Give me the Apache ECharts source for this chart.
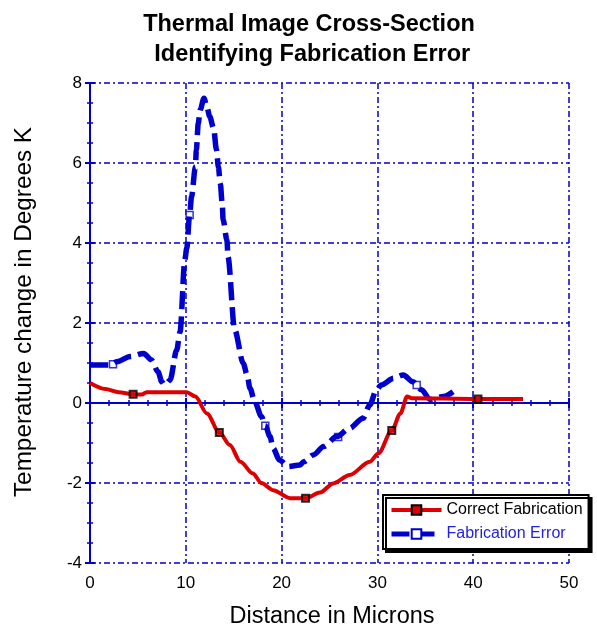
<!DOCTYPE html>
<html>
<head>
<meta charset="utf-8">
<script src="https://cdn.jsdelivr.net/npm/echarts@6/dist/echarts.min.js"></script>
<style>html,body{margin:0;padding:0;background:#fff;}#c{width:597px;height:632px;}</style>
</head>
<body>
<div id="c"></div>
<script>
var correctX = [0,1.6,3.0,4.5,5.4,5.9,10.1,11.0,12.2,13.5,14.6,15.7,17.0,17.9,19.1,20.9,22.5,24.0,25.4,27.1,29.2,30.1,31.5,32.4,33.1,33.6,40.5,45.2];
var correctY = [0.5,0.35,0.27,0.22,0.21,0.27,0.27,0.16,-0.26,-0.74,-1.05,-1.47,-1.76,-2.0,-2.18,-2.38,-2.38,-2.24,-2.01,-1.8,-1.47,-1.26,-0.69,-0.26,0.16,0.12,0.1,0.1];
var errorX = [0,2.1,2.8,4.2,5.6,6.4,7.1,7.5,7.8,8.35,9.05,9.4,9.9,10.1,10.4,10.6,11.0,11.1,11.3,11.5,11.9,12.2,12.5,12.9,13.2,13.4,13.6,13.8,13.9,14.3,14.4,15.1,16.0,16.4,16.7,17.2,17.9,18.3,18.8,19.1,19.8,20.7,21.9,22.3,23.3,24.4,25.75,27.1,28.5,29.2,29.9,30.4,31.7,32.7,33.7,34.6,35.5,36.9,37.9];
var errorY = [0.95,0.95,1.03,1.16,1.24,1.08,0.78,0.53,0.45,0.57,1.32,1.78,3.58,3.87,4.7,5.16,5.9,6.33,6.99,7.33,7.62,7.4,7.16,6.87,6.33,5.9,5.49,4.99,4.57,4.07,3.66,1.83,0.99,0.7,0.37,0.03,-0.34,-0.57,-0.84,-1.13,-1.43,-1.59,-1.55,-1.47,-1.3,-1.09,-0.84,-0.63,-0.38,-0.05,0.33,0.45,0.62,0.7,0.53,0.33,0.09,0.16,0.28];
var correctMarkX = [4.5,13.5,22.5,31.5,40.5];
var correctMarkY = [0.22,-0.74,-2.38,-0.69,0.1];
var errorMarkX = [2.4,10.4,18.3,25.9,34.1];
var errorMarkY = [0.97,4.7,-0.57,-0.85,0.45];
var xTicks = [0,10,20,30,40,50];
var yTicks = [-4,-2,0,2,4,6,8];
var titleText = 'Thermal Image Cross-Section\n Identifying Fabrication Error';
var xName = 'Distance in Microns';
var yName = 'Temperature change in Degrees K';

function zip(a,b){return a.map(function(v,i){return [v,b[i]];});}

var blue = '#0000cc';
var font = 'Liberation Sans, Arial, sans-serif';
var chart = echarts.init(document.getElementById('c'));

function axisCommon(showLabel){
  return {
    axisLine:{show:true,lineStyle:{color:blue,width:2}},
    axisTick:{show:true,inside:true,length:5,lineStyle:{color:blue,width:2}},
    minorTick:{show:true,splitNumber:5,length:3,lineStyle:{color:blue,width:1.5}},
    axisLabel:{show:showLabel,color:'#000',fontSize:17,fontFamily:font},
    splitLine:{show:false}
  };
}

var xMain = Object.assign(axisCommon(true), {
  type:'value', min:xTicks[0], max:xTicks[xTicks.length-1], interval:10, position:'bottom',
  splitLine:{show:true,lineStyle:{color:blue,width:1.5,type:[6,3,2,3]}}
});
xMain.axisLabel.margin = 12;
var xTop = Object.assign(axisCommon(false), {type:'value', min:0, max:50, interval:10, position:'top'});
var yMain = Object.assign(axisCommon(true), {
  type:'value', min:yTicks[0], max:yTicks[yTicks.length-1], interval:2, position:'left',
  splitLine:{show:true,lineStyle:{color:blue,width:1.5,type:[6,3,2,3]}}
});
yMain.minorTick.splitNumber = 4;
yMain.axisLabel.margin = 8;
var yRight = Object.assign(axisCommon(false), {type:'value', min:-4, max:8, interval:2, position:'right'});
yRight.minorTick.splitNumber = 4;

chart.setOption({
  animation:false,
  backgroundColor:'#fff',
  graphic:[
    {type:'text', x:309, y:10,
     style:{text:titleText, textAlign:'center', textVerticalAlign:'top', font:'bold 23.5px ' + font, fill:'#000', lineHeight:30}},
    {type:'text', x:332, y:617,
     style:{text:xName, textAlign:'center', textVerticalAlign:'middle', font:'23.5px ' + font, fill:'#000'}},
    {type:'text', x:24, y:312, rotation:Math.PI/2,
     style:{text:yName, textAlign:'center', textVerticalAlign:'middle', font:'24.3px ' + font, fill:'#000'}}
  ],
  grid:{left:90, right:28, top:83, bottom:69},
  legend:{
    orient:'vertical', left:383, top:495,
    backgroundColor:'#fff', borderColor:'#000', borderWidth:2,
    shadowColor:'#000', shadowBlur:0, shadowOffsetX:3, shadowOffsetY:3,
    padding:[7,6,7,6], itemGap:8, itemWidth:50, itemHeight:12,
    textStyle:{fontSize:16,fontFamily:font,color:'#000'},
    data:[
      {name:'Correct Fabrication', textStyle:{color:'#000'}, lineStyle:{width:4}},
      {name:'Fabrication Error', textStyle:{color:'#2222dd'}, lineStyle:{width:5}}
    ]
  },
  xAxis:[xMain, xTop],
  yAxis:[yMain, yRight],
  series:[
    {
      name:'Correct Fabrication', type:'line', data:zip(correctX,correctY),
      smooth:0.3, smoothMonotone:'x', showSymbol:false, symbol:'rect', symbolSize:7,
      itemStyle:{color:'#dd0000', borderColor:'#000', borderWidth:2},
      lineStyle:{color:'#dd0000', width:4}, z:3
    },
    {
      name:'Fabrication Error', type:'line', data:zip(errorX,errorY),
      smooth:0.3, smoothMonotone:'x', showSymbol:false, symbol:'rect', symbolSize:7,
      itemStyle:{color:'#fff', borderColor:blue, borderWidth:2},
      lineStyle:{color:blue, width:5.5, type:[18,7]}, z:2
    },
    {
      type:'scatter', data:zip(correctMarkX,correctMarkY), symbol:'rect', symbolSize:7,
      itemStyle:{color:'#dd0000', borderColor:'#000', borderWidth:2}, z:4, silent:true
    },
    {
      type:'scatter', data:zip(errorMarkX,errorMarkY), symbol:'rect', symbolSize:7,
      itemStyle:{color:'#fff', borderColor:blue, borderWidth:1.5}, z:1, silent:true
    }
  ]
});
</script>
</body>
</html>
